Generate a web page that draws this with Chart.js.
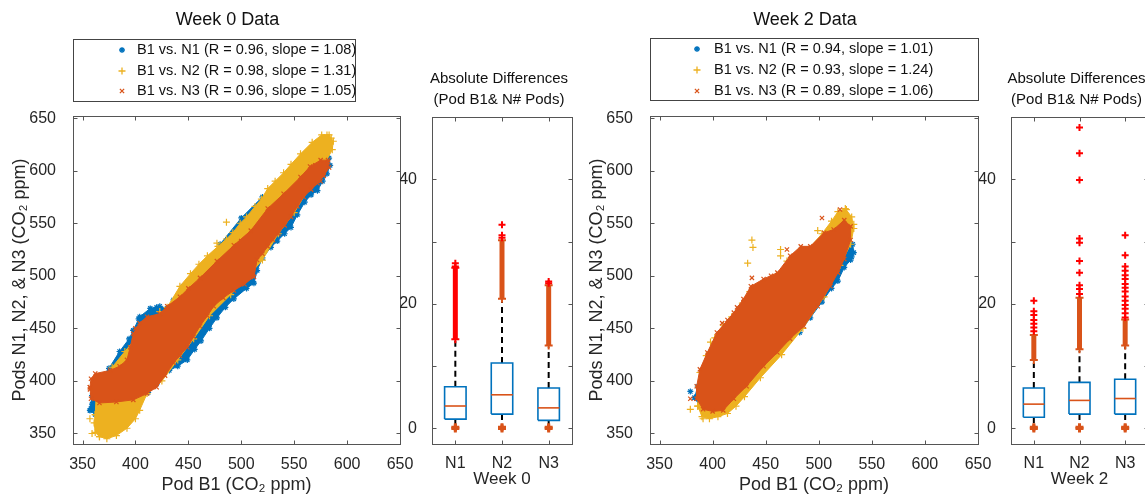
<!DOCTYPE html>
<html>
<head>
<meta charset="utf-8">
<script src="https://cdn.jsdelivr.net/npm/chart.js@4.4.1/dist/chart.umd.min.js"></script>
<style>
  html, body { margin: 0; padding: 0; background: #fff; width: 1145px; height: 497px; overflow: hidden; }
  .panel { position: absolute; top: 0; }
</style>
</head>
<body>
<div class="panel" style="left:0px"><canvas id="scatter0" width="420" height="497"></canvas></div>
<div class="panel" style="left:400px"><canvas id="box0" width="190" height="497"></canvas></div>
<div class="panel" style="left:577px"><canvas id="scatter2" width="421" height="497"></canvas></div>
<div class="panel" style="left:978px"><canvas id="box2" width="190" height="497"></canvas></div>
<script>
// ---- data ----
const series = ['B1 vs. N1', 'B1 vs. N2', 'B1 vs. N3']
const week0R = [0.96, 0.98, 0.96]
const week0Slope = [1.08, 1.31, 1.05]
const week2R = [0.94, 0.93, 0.89]
const week2Slope = [1.01, 1.24, 1.06]

const scatterTicks = [350, 400, 450, 500, 550, 600, 650]
const boxTicks = [0, 10, 20, 30, 40]
const boxTickLabels = ['0', '', '20', '', '40']
const groups = ['N1', 'N2', 'N3']

// outlines of each point cloud, [Pod B1, Pod N#] in ppm
const week0N1 = [[357,372],[362,368],[372,371],[385,374],[400,381],[412,389],[420,397],[432,410],[440,414],[449,420],[456,430],[462,438],[470,450],[477,460],[485,470],[493,478],[505,488],[512,493],[515,505],[520,517],[528,527],[534,533],[541,540],[547,546],[553,558],[560,570],[566,577],[572,581],[577,590],[581,597],[584,605],[583,612],[576,617],[568,614],[555,603],[540,590],[520,575],[500,555],[480,530],[460,505],[445,490],[436,477],[430,469],[423,471],[414,469],[404,461],[398,448],[394,440],[385,428],[375,412],[366,400],[359,386]]
const week0N2 = [[362,368],[361,360],[362,351],[366,347],[373,345],[382,348],[392,355],[400,364],[404,372],[411,388],[425,400],[440,420],[455,440],[470,462],[490,482],[505,498],[520,515],[535,540],[550,560],[565,585],[578,605],[586,620],[587,628],[583,634],[576,634],[567,627],[556,616],[547,606],[540,598],[532,590],[525,583],[519,573],[513,566],[505,556],[499,550],[492,541],[486,535],[478,528],[468,519],[460,511],[452,502],[442,490],[430,470],[420,460],[410,452],[400,440],[390,428],[378,413],[368,400],[363,388]]
const week0N3 = [[357,394],[358,383],[366,379],[382,380],[398,382],[411,388],[420,394],[428,405],[436,417],[442,424],[449,432],[455,442],[461,452],[468,462],[474,471],[483,479],[493,486],[503,492],[512,499],[515,515],[520,521],[525,528],[530,534],[535,540],[541,548],[547,556],[553,566],[559,575],[566,582],[572,588],[578,595],[583,603],[582,610],[575,610],[565,604],[556,594],[540,578],[525,564],[509,543],[493,529],[477,514],[461,498],[450,488],[442,480],[430,471],[423,464],[411,461],[404,455],[398,445],[395,432],[392,420],[385,414],[376,410],[362,407],[358,402]]
const week0StrayN1 = [[398,448],[403,459],[420,470],[358,374],[580,607],[577,612],[359,378]]
const week0StrayN2 = [[486,551],[477,531],[444,488],[423,466],[359,350],[357,364],[366,347],[581,634],[585,631],[400,370]]
const week0StrayN3 = [[357,392],[400,450],[575,590],[582,608],[570,605],[548,570],[500,533]]

const week2N1 = [[383,384],[388,376],[395,372],[405,374],[420,384],[432,396],[445,412],[452,420],[462,428],[472,438],[482,446],[492,460],[503,475],[512,488],[518,495],[524,508],[530,515],[533,522],[532,530],[526,532],[518,528],[505,515],[490,498],[470,478],[450,460],[430,440],[410,420],[395,405],[386,395]]
const week2N2 = [[386,376],[390,366],[397,364],[405,366],[414,369],[422,376],[430,385],[445,403],[465,425],[485,450],[505,480],[520,510],[530,530],[533,545],[531,556],[525,564],[518,561],[512,552],[503,540],[490,525],[480,522],[470,514],[460,500],[447,493],[435,485],[428,474],[418,461],[410,453],[402,441],[394,424],[388,408],[387,395]]
const week2N3 = [[385,383],[391,373],[400,371],[410,372],[420,383],[432,395],[448,414],[461,427],[473,440],[486,452],[499,471],[511,490],[518,503],[524,516],[530,534],[530,547],[524,553],[514,544],[505,541],[492,528],[483,528],[473,519],[461,503],[448,497],[436,490],[429,478],[420,465],[414,458],[404,446],[395,427],[388,411],[385,395]]
const week2StrayN1 = [[379,390],[385,385],[518,505],[528,525],[531,518]]
const week2StrayN2 = [[379,373],[391,364],[437,534],[438,527],[433,512],[464,525],[464,519],[499,543],[533,549],[526,563],[398,437]]
const week2StrayN3 = [[379,383],[503,555],[470,525],[437,498],[520,563],[440,487],[423,470],[409,455],[455,500]]

// box plot statistics (absolute differences, ppm)
const week0Q1 = [1.5, 2.3, 1.3]
const week0Median = [3.6, 5.4, 3.3]
const week0Q3 = [6.7, 10.5, 6.5]
const week0WhiskerLo = [0.4, 0.4, 0.4]
const week0WhiskerHi = [16.0, 20.6, 13.0]
const week0DenseLo = [14.3, 20.8, 13.3]
const week0DenseHi = [25.8, 30.2, 23.0]
const week0Outliers = [[26.0, 26.5], [30.6, 31.0, 32.7], [23.3, 23.6]]
const week0LowOutliers = [[0, 0.2], [0, 0.2], [0, 0.2]]

const week2Q1 = [1.8, 2.3, 2.3]
const week2Median = [3.9, 4.5, 4.8]
const week2Q3 = [6.5, 7.4, 7.9]
const week2WhiskerLo = [0.4, 0.4, 0.4]
const week2WhiskerHi = [10.5, 12.4, 13.1]
const week2DenseLo = [11.0, 12.7, 13.3]
const week2DenseHi = [15.0, 21.0, 17.5]
const week2Outliers = [
    [15.6, 16.2, 16.8, 17.4, 18.2, 18.8, 20.5],
    [21.6, 22.4, 23.0, 25.0, 26.9, 29.8, 30.5, 39.9, 44.2, 48.3],
    [17.8, 18.5, 19.2, 19.8, 20.5, 21.2, 22.0, 22.6, 23.2, 24.0, 24.6, 25.3, 26.0, 27.8, 31.0]
]
const week2LowOutliers = [[0, 0.2], [0, 0.2], [0, 0.2]]

// ---- styling ----
const family = '"Liberation Sans", Arial, sans-serif'
Chart.defaults.font.family = family
Chart.defaults.color = '#262626'

const BLUE = '#0072BD'
const YELLOW = '#EDB120'
const ORANGE = '#D95319'
const RED = '#FF0000'
const markers = [
    { color: BLUE, pointStyle: 'star', radius: 3 },
    { color: YELLOW, pointStyle: 'cross', radius: 3.5 },
    { color: ORANGE, pointStyle: 'crossRot', radius: 3 }
]

const toPoints = arr => arr.map(([x, y]) => ({ x, y }))

// MATLAB-like box, inward ticks, title and legend
const frame = {
    id: 'frame',
    afterDraw(chart, args, o) {
        const { ctx, chartArea: a } = chart
        const { x, y } = chart.scales
        const left = Math.round(a.left) + 0.5
        const top = Math.round(a.top) + 0.5
        const right = Math.round(a.right) + 0.5
        const bottom = Math.round(a.bottom) + 0.5
        ctx.save()
        ctx.lineWidth = 1
        ctx.strokeStyle = '#555'
        ctx.strokeRect(left, top, right - left, bottom - top)
        ctx.beginPath()
        x.ticks.forEach(t => {
            const px = Math.round(x.getPixelForValue(t.value)) + 0.5
            ctx.moveTo(px, bottom); ctx.lineTo(px, bottom - o.tick)
            ctx.moveTo(px, top); ctx.lineTo(px, top + o.tick)
        })
        y.ticks.forEach(t => {
            const py = Math.round(y.getPixelForValue(t.value)) + 0.5
            ctx.moveTo(left, py); ctx.lineTo(left + o.tick, py)
            ctx.moveTo(right, py); ctx.lineTo(right - o.tick, py)
        })
        ctx.stroke()

        ctx.fillStyle = '#111'
        ctx.textAlign = 'center'
        ctx.textBaseline = 'middle'
        ctx.font = o.title.size + 'px ' + family
        const cx = (a.left + a.right) / 2 + o.title.dx
        o.title.lines.forEach((t, i) => ctx.fillText(t, cx, o.title.ys[i]))

        const L = o.legend
        if (L) {
            ctx.strokeStyle = '#444'
            ctx.strokeRect(left, L.top + 0.5, L.width, L.height)
            ctx.textAlign = 'left'
            ctx.font = L.size + 'px ' + family
            chart.data.datasets.filter(d => d.legendLabel).forEach((d, i) => {
                const yy = L.rows[i]
                ctx.strokeStyle = d.borderColor
                ctx.fillStyle = d.borderColor
                ctx.lineWidth = 1.3
                Chart.helpers.drawPoint(ctx, { pointStyle: d.pointStyle, radius: d.legendRadius, borderWidth: 1.3, rotation: 0 }, a.left + L.markerX, yy)
                ctx.fillStyle = '#111'
                ctx.fillText(d.legendLabel, a.left + L.textX, yy)
            })
        }
        ctx.restore()
    }
}

function cloudSets(outline, stray, i, r, slope) {
    const m = markers[i]
    const label = `${series[i]} (R = ${r[i].toFixed(2)}, slope = ${slope[i].toFixed(2)})`
    return [{
        type: 'line',
        legendLabel: label,
        legendRadius: m.radius,
        data: toPoints(outline.concat([outline[0]])),
        order: 3 - i,
        borderColor: m.color,
        backgroundColor: m.color,
        borderWidth: 1,
        fill: 'shape',
        tension: 0,
        pointStyle: m.pointStyle,
        pointRadius: m.radius,
        pointBorderWidth: 1.2,
        pointBorderColor: m.color,
        pointBackgroundColor: m.color
    }, {
        type: 'scatter',
        data: toPoints(stray),
        order: 3 - i,
        pointStyle: m.pointStyle,
        pointRadius: m.radius,
        pointBorderWidth: 1.2,
        borderColor: m.color,
        backgroundColor: m.color
    }]
}

function scatterChart(id, clouds, title, legend) {
    return new Chart(document.getElementById(id), {
        type: 'scatter',
        data: { datasets: clouds },
        options: {
            responsive: false,
            animation: false,
            events: [],
            layout: { padding: { top: 116, right: 20, left: 0, bottom: 0 }, autoPadding: false },
            plugins: {
                legend: { display: false },
                tooltip: { enabled: false },
                frame: { tick: 4, title, legend }
            },
            scales: {
                x: {
                    type: 'linear', min: 341, max: 650,
                    afterBuildTicks: s => { s.ticks = scatterTicks.map(v => ({ value: v })) },
                    afterFit: s => { s.height = 53 },
                    grid: { display: false }, border: { display: false },
                    ticks: { font: { size: 16 }, padding: 3, maxRotation: 0, autoSkip: false },
                    title: { display: true, text: 'Pod B1 (CO₂ ppm)', font: { size: 18 }, padding: { top: 0, bottom: 1 } }
                },
                y: {
                    type: 'linear', min: 340, max: 652,
                    afterBuildTicks: s => { s.ticks = scatterTicks.map(v => ({ value: v })) },
                    afterFit: s => { s.width = 73 },
                    grid: { display: false }, border: { display: false },
                    ticks: { font: { size: 16 }, padding: 9, autoSkip: false },
                    title: { display: true, text: 'Pods N1, N2, & N3 (CO₂ ppm)', font: { size: 18 }, padding: { top: 9, bottom: 0 } }
                }
            }
        },
        plugins: [frame]
    })
}

function boxSets(q1, med, q3, wLo, wHi, dLo, dHi, outliers, lows, denseColors) {
    const w = 0.23
    const sets = []
    const line = (pts, color, width, order, extra) => Object.assign({
        type: 'line', data: toPoints(pts), borderColor: color, borderWidth: width,
        pointRadius: 0, fill: false, tension: 0, order
    }, extra || {})
    groups.forEach((g, i) => {
        const c = i + 1
        sets.push(line([[c, q3[i]], [c, wHi[i]]], '#000', 2, 6, { borderDash: [6, 4] }))
        sets.push(line([[c, q1[i]], [c, wLo[i]]], '#000', 2, 6, { borderDash: [6, 4] }))
        sets.push(line([[c, dLo[i]], [c, dHi[i]]], denseColors[i], 5, 5, {
            pointStyle: 'cross', pointRadius: 4, pointBorderWidth: 2,
            pointBorderColor: denseColors[i]
        }))
        sets.push({
            type: 'scatter', data: outliers[i].map(v => ({ x: c, y: v })), order: 4,
            pointStyle: 'cross', pointRadius: 3.5, pointBorderWidth: 2, borderColor: RED, backgroundColor: RED
        })
        sets.push({
            type: 'scatter', data: lows[i].map(v => ({ x: c, y: v })), order: 4,
            pointStyle: 'cross', pointRadius: 4, pointBorderWidth: 3, borderColor: ORANGE, backgroundColor: ORANGE
        })
        sets.push(line([[c - w, q1[i]], [c + w, q1[i]], [c + w, q3[i]], [c - w, q3[i]], [c - w, q1[i]]], BLUE, 1.6, 2))
        sets.push(line([[c - w, med[i]], [c + w, med[i]]], ORANGE, 1.6, 1))
    })
    return sets
}

function boxChart(id, sets, xTitle, yWidth, rightPad) {
    return new Chart(document.getElementById(id), {
        type: 'scatter',
        data: { datasets: sets },
        options: {
            responsive: false,
            animation: false,
            events: [],
            layout: { padding: { top: 117, right: rightPad, left: 0, bottom: 0 }, autoPadding: false },
            plugins: {
                legend: { display: false },
                tooltip: { enabled: false },
                frame: {
                    tick: 4,
                    title: { lines: ['Absolute Differences', '(Pod B1& N# Pods)'], ys: [79, 100], dx: -3, size: 15 }
                }
            },
            scales: {
                x: {
                    type: 'linear', min: 0.5, max: 3.5,
                    afterBuildTicks: s => { s.ticks = groups.map((g, i) => ({ value: i + 1 })) },
                    afterFit: s => { s.height = 53 },
                    grid: { display: false }, border: { display: false },
                    ticks: { font: { size: 16 }, padding: 2, maxRotation: 0, autoSkip: false, callback: (v, i) => groups[i] },
                    title: { display: true, text: xTitle, font: { size: 17 }, padding: { top: 0, bottom: 7 } }
                },
                y: {
                    type: 'linear', min: -2.5, max: 50,
                    afterBuildTicks: s => { s.ticks = boxTicks.map(v => ({ value: v })) },
                    afterFit: s => { s.width = yWidth },
                    grid: { display: false }, border: { display: false },
                    ticks: { font: { size: 16 }, padding: 7, autoSkip: false, callback: (v, i) => boxTickLabels[i] }
                }
            }
        },
        plugins: [frame]
    })
}

scatterChart('scatter0', [
    ...cloudSets(week0N1, week0StrayN1, 0, week0R, week0Slope),
    ...cloudSets(week0N2, week0StrayN2, 1, week0R, week0Slope),
    ...cloudSets(week0N3, week0StrayN3, 2, week0R, week0Slope)
], { lines: ['Week 0 Data'], ys: [20], dx: -9, size: 18 },
   { top: 39, height: 62, width: 282, rows: [50, 71, 91], markerX: 49, textX: 64, size: 14.5 })

boxChart('box0', boxSets(week0Q1, week0Median, week0Q3, week0WhiskerLo, week0WhiskerHi,
    week0DenseLo, week0DenseHi, week0Outliers, week0LowOutliers, [RED, ORANGE, ORANGE]), 'Week 0', 32, 18)

scatterChart('scatter2', [
    ...cloudSets(week2N1, week2StrayN1, 0, week2R, week2Slope),
    ...cloudSets(week2N2, week2StrayN2, 1, week2R, week2Slope),
    ...cloudSets(week2N3, week2StrayN3, 2, week2R, week2Slope)
], { lines: ['Week 2 Data'], ys: [20], dx: -9, size: 18 },
   { top: 38, height: 62, width: 328, rows: [49, 70, 91], markerX: 47, textX: 64, size: 14.5 })

boxChart('box2', boxSets(week2Q1, week2Median, week2Q3, week2WhiskerLo, week2WhiskerHi,
    week2DenseLo, week2DenseHi, week2Outliers, week2LowOutliers, [ORANGE, ORANGE, ORANGE]), 'Week 2', 33, 20)
</script>
</body>
</html>
